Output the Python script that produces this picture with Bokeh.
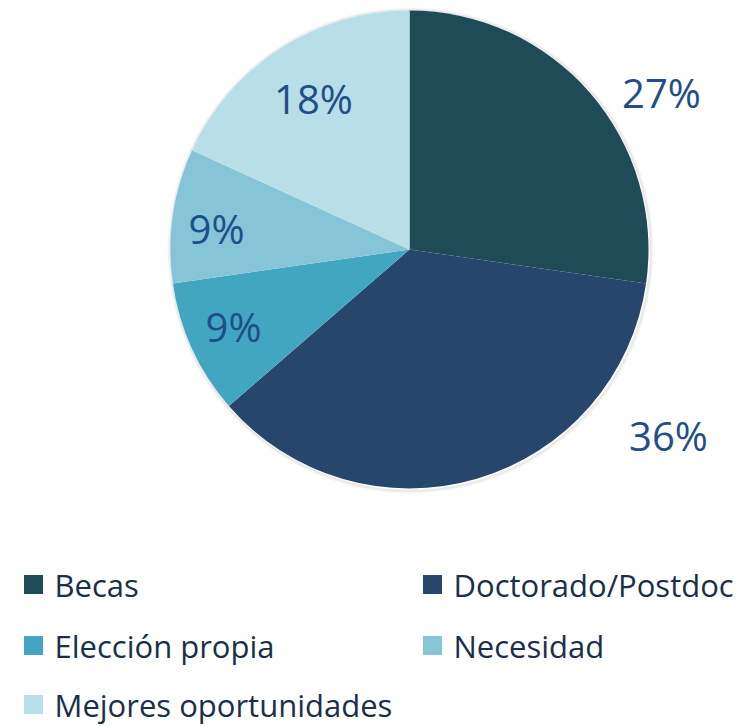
import math
from bokeh.plotting import figure
from bokeh.models import Range1d, ColumnDataSource
from bokeh.core.properties import value
from bokeh.embed import file_html
from bokeh.resources import INLINE

# Data
categories = ["Becas", "Doctorado/Postdoc", "Elección propia", "Necesidad", "Mejores oportunidades"]
counts = [3, 4, 1, 1, 2]
colors = ["#1F4B57", "#27466B", "#42A6C1", "#86C5D7", "#B8DEE7"]

# Layout
W, H = 753, 727
cx, cy, R = 409, H - 249, 239
label_dx = [252, 259, -176, -193, -96]
label_dy = [157, -186, -77, 21, 151]
legend_x = [33, 432, 33, 432, 33]
legend_y = [584, 584, 645, 645, 704]

total = sum(counts)
starts, ends, pcts = [], [], []
cum = 0
for c in counts:
    starts.append(math.pi / 2 - 2 * math.pi * cum / total)
    cum += c
    ends.append(math.pi / 2 - 2 * math.pi * cum / total)
    pcts.append(f"{round(100 * c / total)}%")

p = figure(width=W, height=H, output_backend="svg", toolbar_location=None,
           x_range=Range1d(0, W), y_range=Range1d(0, H), min_border=0)
p.axis.visible = False
p.grid.visible = False
p.outline_line_color = None
p.background_fill_color = "white"

# soft shadow
for i, a in enumerate([0.05, 0.08, 0.12]):
    p.circle(x=[cx + 1], y=[cy - 1], radius=R + 3 - i, fill_color=None,
             line_color="#808080", line_alpha=a, line_width=2)

src = ColumnDataSource(dict(start=starts, end=ends, color=colors))
p.wedge(x=cx, y=cy, radius=R, start_angle="start", end_angle="end",
        direction="clock", fill_color="color", line_color=None, source=src)

lsrc = ColumnDataSource(dict(x=[cx + d for d in label_dx], y=[cy + d for d in label_dy], t=pcts))
p.text(x="x", y="y", text="t", source=lsrc, text_font=value("Open Sans"),
       text_font_size="40px", text_color="#1F4E8A", text_align="center",
       text_baseline="middle")

# Legend
gsrc = ColumnDataSource(dict(x=legend_x, y=[H - v for v in legend_y], color=colors,
                             tx=[v + 21 for v in legend_x], t=categories))
p.rect(x="x", y="y", width=19, height=19, width_units="screen", height_units="screen",
       fill_color="color", line_color=None, source=gsrc)
p.text(x="tx", y="y", text="t", source=gsrc, text_font=value("Open Sans"),
       text_font_size="31px", text_color="#1B2F4A", text_align="left",
       text_baseline="middle")

open("out.html", "w").write(file_html(p, INLINE))
